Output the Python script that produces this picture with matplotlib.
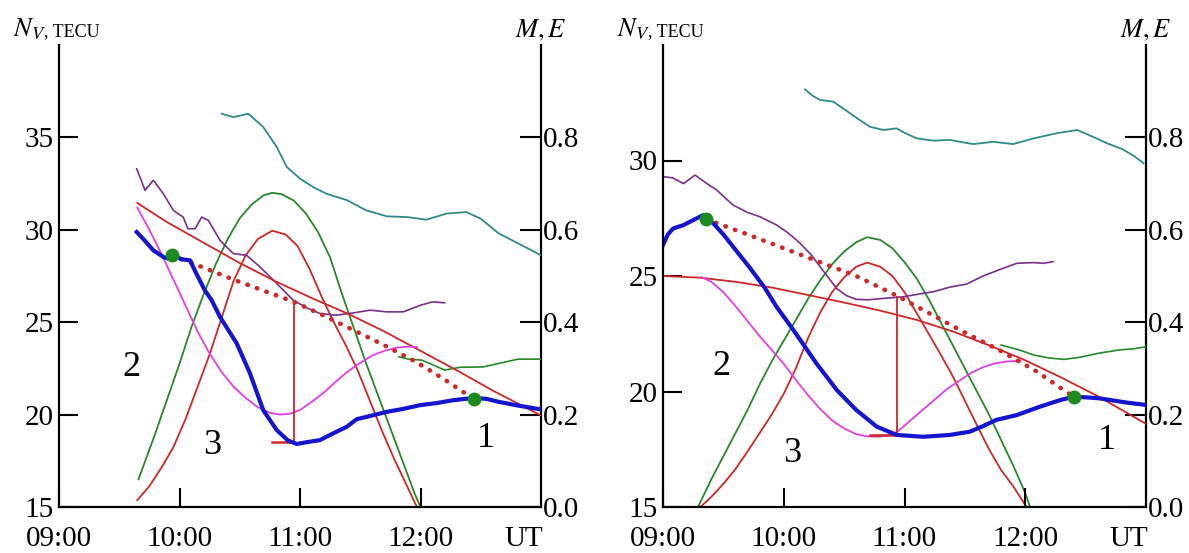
import matplotlib
matplotlib.use("Agg")
import matplotlib.pyplot as plt

plt.rcParams["font.family"] = "Liberation Serif"
plt.rcParams["mathtext.fontset"] = "stix"

# ---------------- left panel ----------------
a_blue_t = [9.645, 9.7, 9.783, 9.866, 9.9, 9.95, 10.02, 10.087, 10.14, 10.21, 10.267, 10.336,
            10.475, 10.585, 10.695, 10.807, 10.9, 10.973, 11.05, 11.166, 11.28, 11.388, 11.47,
            11.554, 11.72, 11.85, 11.996, 12.13, 12.272, 12.44, 12.55, 12.65, 12.8, 13.0]
a_blue_n = [29.88, 29.5, 28.89, 28.53, 28.45, 28.6, 28.4, 28.35, 27.63, 26.73, 26.19, 25.29,
            23.85, 22.23, 20.24, 19.16, 18.6, 18.41, 18.5, 18.62, 19.0, 19.34, 19.75,
            19.88, 20.15, 20.3, 20.51, 20.62, 20.78, 20.9, 20.85, 20.69, 20.5, 20.28]

a_trend_t = [9.94, 10.2, 10.45, 10.7, 10.95, 11.2, 11.45, 11.7, 11.95, 12.2, 12.44]
a_trend_n = [28.62, 27.95, 27.3, 26.7, 26.1, 25.35, 24.55, 23.75, 22.9, 21.9, 20.85]

a_model_t = [9.65, 9.75, 9.85, 9.95, 10.05, 10.15, 10.25, 10.35, 10.45, 10.55, 10.65, 10.75,
             10.83, 10.92, 11.0, 11.1, 11.2, 11.3, 11.4, 11.5, 11.6, 11.7, 11.8, 11.9, 11.97]
a_model_n = [31.2, 30.0, 28.7, 27.3, 25.9, 24.5, 23.3, 22.3, 21.5, 20.9, 20.4, 20.1,
             20.0, 20.05, 20.25, 20.7, 21.2, 21.8, 22.35, 22.8, 23.2, 23.45, 23.62, 23.68, 23.65]

a_smooth_t = [9.65, 9.9, 10.2, 10.5, 10.8, 11.1, 11.4, 11.7, 12.0, 12.3, 12.6, 13.0]
a_smooth_n = [31.45, 30.4, 29.3, 28.2, 27.2, 26.3, 25.45, 24.5, 23.45, 22.4, 21.3, 19.95]

a_m_t = [9.66, 9.8, 9.9, 10.0, 10.1, 10.2, 10.3, 10.4, 10.5, 10.6, 10.7, 10.77, 10.85,
         10.95, 11.05, 11.15, 11.25, 11.35, 11.45, 11.55, 11.65, 11.75, 11.85, 11.95, 12.0]
a_m = [0.06, 0.16, 0.235, 0.31, 0.39, 0.46, 0.525, 0.58, 0.625, 0.655, 0.675, 0.68, 0.677,
       0.663, 0.635, 0.595, 0.54, 0.46, 0.385, 0.31, 0.24, 0.17, 0.1, 0.03, 0.0]

a_e_t = [9.65, 9.75, 9.85, 9.95, 10.05, 10.15, 10.25, 10.35, 10.45, 10.55, 10.65, 10.77,
         10.88, 10.98, 11.08, 11.18, 11.28, 11.38, 11.48, 11.58, 11.68, 11.78, 11.88, 11.97]
a_e = [0.015, 0.045, 0.085, 0.13, 0.19, 0.26, 0.33, 0.41, 0.49, 0.545, 0.58, 0.598,
       0.59, 0.565, 0.515, 0.455, 0.4, 0.35, 0.295, 0.23, 0.165, 0.105, 0.05, 0.0]

a_purple_t = [9.645, 9.714, 9.783, 9.866, 9.949, 10.03, 10.07, 10.13, 10.184, 10.24, 10.336,
              10.447, 10.557, 10.668, 10.78, 10.944, 11.05, 11.166, 11.3, 11.44, 11.58,
              11.72, 11.857, 12.0, 12.1, 12.2]
a_purple_n = [33.3, 32.14, 32.68, 31.95, 31.05, 30.69, 30.06, 30.06, 30.69, 30.51, 29.43,
              28.71, 28.62, 27.99, 27.27, 26.19, 25.8, 25.47, 25.38, 25.5, 25.65,
              25.56, 25.56, 25.92, 26.1, 26.05]

a_teal_t = [10.35, 10.447, 10.571, 10.695, 10.807, 10.89, 11.0, 11.11, 11.22, 11.39, 11.55,
            11.72, 11.885, 12.05, 12.217, 12.38, 12.5, 12.65, 12.8, 13.0]
a_teal_n = [36.28, 36.1, 36.28, 35.56, 34.48, 33.4, 32.77, 32.31, 31.95, 31.6, 31.05,
            30.73, 30.69, 30.55, 30.88, 30.96, 30.6, 29.8, 29.3, 28.62]

a_green_t = [11.82, 11.9, 12.01, 12.1, 12.2, 12.33, 12.52, 12.65, 12.81, 13.0]
a_green_n = [23.13, 23.0, 22.95, 22.7, 22.41, 22.56, 22.58, 22.77, 23.0, 23.0]

a_dots_t = [9.94, 12.44]
a_dots_n = [28.62, 20.85]
a_drop_t = 10.95
a_drop_top = 26.1
a_drop_bottom = 18.5
a_drop_left = 10.77

a_labels = ["2", "3", "1"]
a_labels_t = [9.6, 10.27, 12.54]
a_labels_n = [22.55, 18.35, 18.71]

# ---------------- right panel ----------------
b_blue_t = [9.0, 9.04, 9.085, 9.168, 9.25, 9.334, 9.37, 9.416, 9.5, 9.58, 9.72, 9.845, 9.94,
            10.08, 10.27, 10.44, 10.6, 10.77, 10.935, 11.155, 11.377, 11.54, 11.65, 11.76,
            11.93, 12.12, 12.29, 12.4, 12.5, 12.62, 12.84, 13.0]
b_blue_n = [26.34, 26.8, 27.06, 27.2, 27.42, 27.64, 27.5, 27.28, 26.8, 26.27, 25.35, 24.47, 23.67,
            22.66, 21.22, 20.06, 19.2, 18.48, 18.12, 18.04, 18.12, 18.26, 18.5, 18.77,
            18.98, 19.34, 19.63, 19.77, 19.75, 19.7, 19.52, 19.42]

b_trend_t = [9.36, 9.7, 10.0, 10.3, 10.6, 10.935, 11.2, 11.5, 11.8, 12.1, 12.4]
b_trend_n = [27.45, 26.8, 26.2, 25.6, 25.0, 24.15, 23.4, 22.55, 21.75, 20.85, 19.77]

b_model_t = [9.32, 9.4, 9.5, 9.6, 9.7, 9.8, 9.9, 10.0, 10.1, 10.2, 10.3, 10.4, 10.5, 10.6,
             10.7, 10.8, 10.9, 10.95, 11.05, 11.15, 11.25, 11.35, 11.45, 11.55, 11.65, 11.75,
             11.85, 11.96]
b_model_n = [24.95, 24.75, 24.3, 23.7, 23.05, 22.4, 21.8, 21.2, 20.5, 19.85, 19.25, 18.75,
             18.4, 18.15, 18.05, 18.05, 18.15, 18.3, 18.75, 19.2, 19.65, 20.1, 20.45, 20.8,
             21.05, 21.22, 21.3, 21.33]

b_smooth_t = [9.0, 9.3, 9.6, 9.9, 10.2, 10.5, 10.8, 11.1, 11.4, 11.7, 12.0, 12.3, 12.6, 13.0]
b_smooth_n = [25.0, 24.93, 24.75, 24.5, 24.18, 23.85, 23.5, 23.1, 22.6, 22.0, 21.35, 20.6,
              19.8, 18.6]

b_m_t = [9.29, 9.4, 9.5, 9.6, 9.7, 9.8, 9.9, 10.0, 10.1, 10.2, 10.3, 10.4, 10.5, 10.6,
         10.69, 10.8, 10.9, 11.0, 11.1, 11.2, 11.3, 11.4, 11.5, 11.6, 11.7, 11.8, 11.9,
         12.0, 12.04]
b_m = [0.0, 0.06, 0.11, 0.16, 0.21, 0.265, 0.315, 0.36, 0.405, 0.45, 0.49, 0.525, 0.553,
       0.573, 0.584, 0.578, 0.56, 0.53, 0.495, 0.45, 0.4, 0.35, 0.3, 0.25, 0.2, 0.145,
       0.09, 0.03, 0.0]

b_e_t = [9.31, 9.4, 9.5, 9.6, 9.7, 9.8, 9.9, 10.0, 10.1, 10.2, 10.3, 10.4, 10.5, 10.6,
         10.69, 10.8, 10.9, 11.0, 11.1, 11.2, 11.3, 11.4, 11.5, 11.6, 11.7, 11.8, 11.9, 12.01]
b_e = [0.0, 0.022, 0.05, 0.082, 0.12, 0.16, 0.2, 0.245, 0.3, 0.365, 0.42, 0.465, 0.497,
       0.52, 0.529, 0.52, 0.5, 0.465, 0.42, 0.375, 0.33, 0.283, 0.23, 0.177, 0.125, 0.08,
       0.045, 0.0]

b_purple_t = [9.0, 9.08, 9.17, 9.265, 9.35, 9.445, 9.58, 9.7, 9.8, 9.94, 10.04, 10.135,
              10.23, 10.33, 10.44, 10.52, 10.6, 10.7, 10.825, 10.99, 11.1, 11.24, 11.377,
              11.515, 11.65, 11.8, 11.93, 12.07, 12.15, 12.23]
b_purple_n = [29.3, 29.25, 29.0, 29.37, 29.05, 28.72, 28.07, 27.75, 27.57, 27.21, 26.85, 26.42,
              25.9, 25.2, 24.45, 24.15, 23.99, 23.97, 24.03, 24.1, 24.2, 24.32, 24.52,
              24.65, 25.0, 25.3, 25.55, 25.58, 25.55, 25.62]

b_teal_t = [10.176, 10.24, 10.3, 10.41, 10.55, 10.63, 10.714, 10.825, 10.935, 11.0, 11.1,
            11.24, 11.377, 11.47, 11.57, 11.735, 11.9, 12.07, 12.26, 12.43, 12.55, 12.68,
            12.8, 12.9, 12.98]
b_teal_n = [33.08, 32.8, 32.62, 32.55, 32.04, 31.75, 31.46, 31.32, 31.39, 31.2, 30.96,
            30.86, 30.89, 30.8, 30.71, 30.81, 30.71, 30.96, 31.18, 31.32, 31.05, 30.74,
            30.5, 30.2, 29.88]

b_green_t = [11.8, 11.95, 12.07, 12.2, 12.32, 12.45, 12.6, 12.78, 12.9, 13.0]
b_green_n = [22.01, 21.8, 21.58, 21.45, 21.39, 21.48, 21.65, 21.8, 21.85, 21.94]

b_dots_t = [9.36, 12.4]
b_dots_n = [27.45, 19.77]
b_drop_t = 10.935
b_drop_top = 24.1
b_drop_bottom = 18.1
b_drop_left = 10.715

b_labels = ["2", "3", "1"]
b_labels_t = [9.486, 10.074, 12.68]
b_labels_n = [21.07, 17.32, 17.9]

# axis settings
a_ylim = (15, 40)
a_yticks = [15, 20, 25, 30, 35]
b_ylim = (15, 35)
b_yticks = [15, 20, 25, 30]
me_ticks = [0.0, 0.2, 0.4, 0.6, 0.8]
x_ticks = [9, 10, 11, 12, 12.86]
x_labels = ["09:00", "10:00", "11:00", "12:00", "UT"]

BLUE = "#1515d0"
RED = "#cf2626"
GREEN = "#27882a"
MAGENTA = "#e23fe2"
PURPLE = "#7a2f8c"
TEAL = "#2f8a8c"
DOT = "#1c8c1c"


def draw_panel(ax, d, ylim, yticks):
    axm = ax.twinx()
    ax.set_zorder(axm.get_zorder() + 1)
    ax.patch.set_visible(False)

    # eclipse magnitude / obscuration on the right axis
    axm.plot(d["m_t"], d["m"], color=GREEN, lw=1.3)
    axm.plot(d["e_t"], d["e"], color=RED, lw=1.3)

    ax.plot(d["teal_t"], d["teal_n"], color=TEAL, lw=1.3)
    ax.plot(d["purple_t"], d["purple_n"], color=PURPLE, lw=1.2)
    ax.plot(d["green_t"], d["green_n"], color=GREEN, lw=1.2)
    ax.plot(d["smooth_t"], d["smooth_n"], color=RED, lw=1.3)
    ax.plot(d["model_t"], d["model_n"], color=MAGENTA, lw=1.3)
    ax.plot([d["drop_t"], d["drop_t"]], [d["drop_top"], d["drop_bottom"]], color=RED, lw=1.3)
    ax.plot([d["drop_left"], d["drop_t"]], [d["drop_bottom"], d["drop_bottom"]], color=RED, lw=1.8)
    ax.plot(d["trend_t"], d["trend_n"], color=RED, lw=3.3,
            linestyle=(0, (0.1, 2.1)), dash_capstyle="round")
    ax.plot(d["blue_t"], d["blue_n"], color=BLUE, lw=3.0)
    ax.plot(d["dots_t"], d["dots_n"], "o", color=DOT, ms=9, zorder=5)

    for s, t, n in zip(d["labels"], d["labels_t"], d["labels_n"]):
        ax.text(t, n, s, fontsize=26, ha="center", va="center")

    ax.set_xlim(9, 13)
    ax.set_ylim(*ylim)
    axm.set_ylim(0, 1.0)

    ax.set_xticks(x_ticks)
    ax.set_xticklabels(x_labels)
    ax.xaxis.get_major_ticks()[-1].tick1line.set_visible(False)
    ax.set_yticks(yticks)
    ax.set_yticklabels([str(v) for v in yticks])
    axm.set_yticks(me_ticks)
    axm.set_yticklabels([f"{v:.1f}" for v in me_ticks])

    ax.tick_params(axis="x", direction="in", length=14, width=1.5, labelsize=21, pad=14)
    ax.tick_params(axis="y", direction="in", length=14, width=1.5, labelsize=21, pad=4)
    axm.tick_params(axis="y", direction="in", length=15, width=1.5, labelsize=21, pad=1)

    for a in (ax, axm):
        a.spines["top"].set_visible(False)
        for s in a.spines.values():
            s.set_linewidth(1.6)
    ax.spines["right"].set_visible(False)
    axm.spines["left"].set_visible(False)
    axm.spines["bottom"].set_visible(False)

    ax.annotate(r"$N_V$", xy=(0, 1), xycoords="axes fraction", xytext=(-46, 9),
                textcoords="offset pixels", fontsize=19, va="baseline", ha="left")
    ax.annotate(", TECU", xy=(0, 1), xycoords="axes fraction", xytext=(-15, 9),
                textcoords="offset pixels", fontsize=13, va="baseline", ha="left")
    ax.annotate(r"$M,E$", xy=(1, 1), xycoords="axes fraction", xytext=(0, 8),
                textcoords="offset pixels", fontsize=19, va="baseline", ha="center")


def panel_data(prefix):
    g = globals()
    keys = ["blue_t", "blue_n", "trend_t", "trend_n", "model_t", "model_n", "smooth_t",
            "smooth_n", "m_t", "m", "e_t", "e", "purple_t", "purple_n", "teal_t", "teal_n",
            "green_t", "green_n", "dots_t", "dots_n", "drop_t", "drop_top", "drop_bottom",
            "drop_left", "labels", "labels_t", "labels_n"]
    return {k: g[prefix + k] for k in keys}


fig = plt.figure(figsize=(11.89, 5.53), dpi=100)
ax_a = fig.add_axes([59 / 1189, 46 / 553, 482 / 1189, 462 / 553])
ax_b = fig.add_axes([663 / 1189, 46 / 553, 483 / 1189, 462 / 553])

draw_panel(ax_a, panel_data("a_"), a_ylim, a_yticks)
draw_panel(ax_b, panel_data("b_"), b_ylim, b_yticks)

fig.savefig("out.png", dpi=100)
